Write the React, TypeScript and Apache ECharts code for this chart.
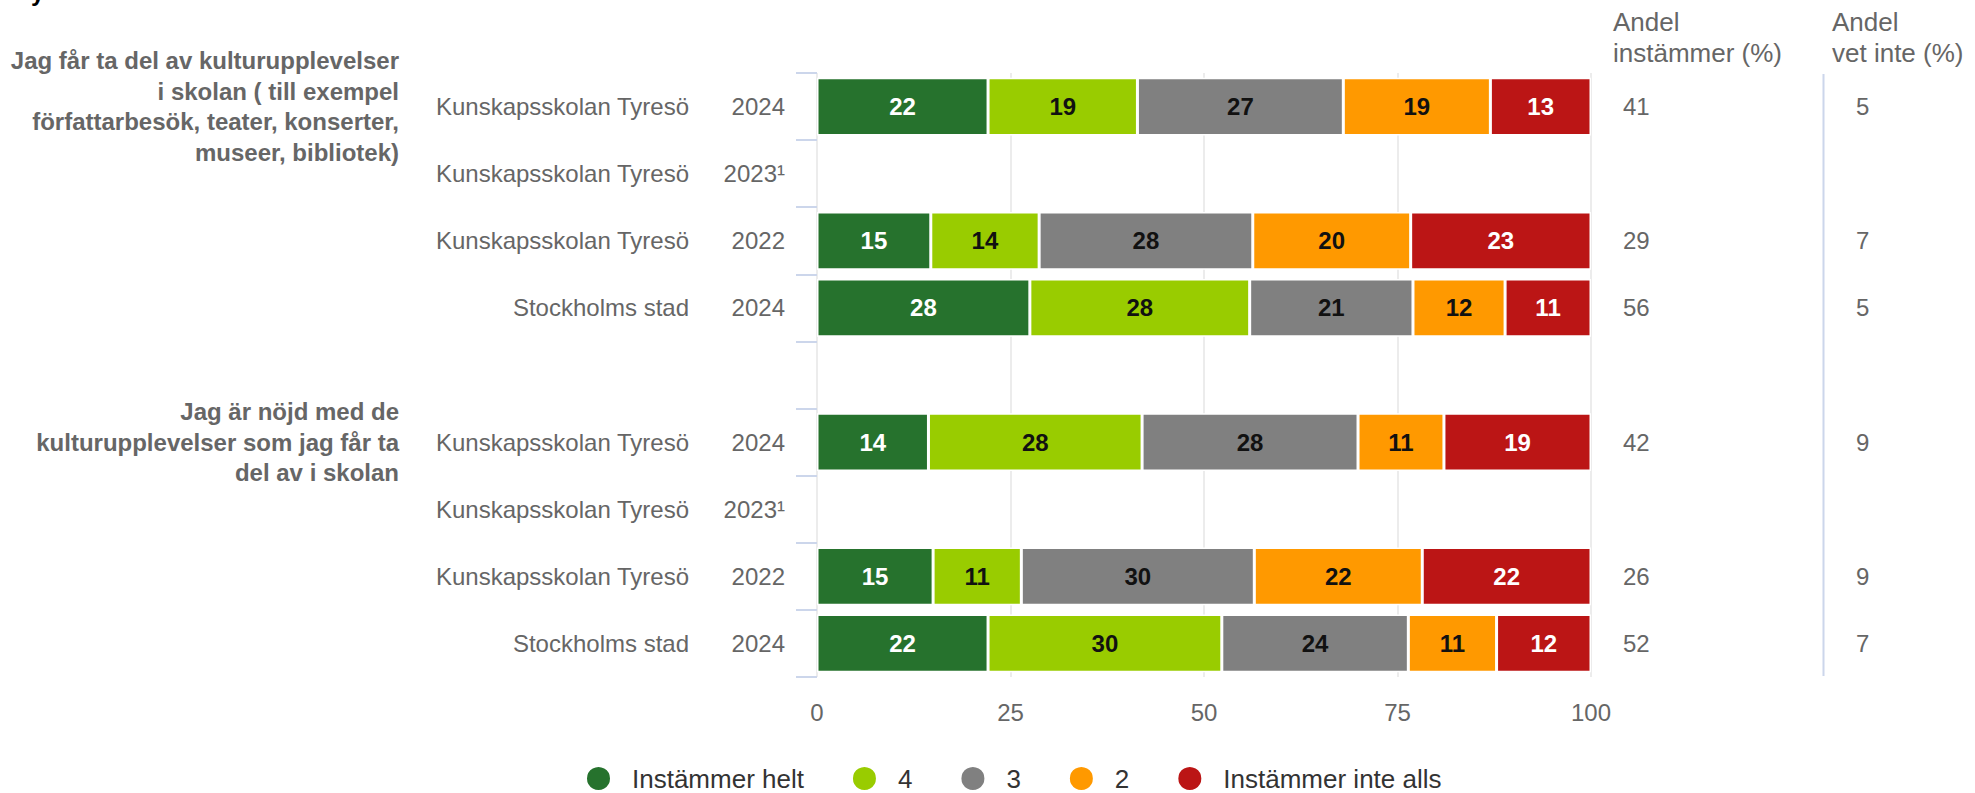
import React, { useEffect, useRef } from "react";
import * as echarts from "echarts";

const rowNames = [
  "Kunskapsskolan Tyresö",
  "Kunskapsskolan Tyresö",
  "Kunskapsskolan Tyresö",
  "Stockholms stad",
  "",
  "Kunskapsskolan Tyresö",
  "Kunskapsskolan Tyresö",
  "Kunskapsskolan Tyresö",
  "Stockholms stad",
];
const rowYears = ["2024", "2023¹", "2022", "2024", "", "2024", "2023¹", "2022", "2024"];
const rowIds = ["r0", "r1", "r2", "r3", "r4", "r5", "r6", "r7", "r8"];

const questionByRow: Record<number, string> = {
  0: "Jag får ta del av kulturupplevelser\ni skolan ( till exempel\nförfattarbesök, teater, konserter,\nmuseer, bibliotek)",
  5: "Jag är nöjd med de\nkulturupplevelser som jag får ta\ndel av i skolan",
};

const seriesNames = ["Instämmer helt", "4", "3", "2", "Instämmer inte alls"];
const seriesColors = ["#26722d", "#99cc00", "#808080", "#ff9900", "#bb1515"];
const labelColors = ["#ffffff", "#111111", "#111111", "#111111", "#ffffff"];

const instammerHelt = [22.1, null, 14.7, 27.5, null, 14.4, null, 15.0, 22.1];
const varde4 = [19.3, null, 14.0, 28.4, null, 27.6, null, 11.4, 30.2];
const varde3 = [26.6, null, 27.6, 21.1, null, 27.9, null, 30.1, 24.1];
const varde2 = [19.0, null, 20.4, 11.9, null, 11.1, null, 21.7, 11.4];
const instammerInteAlls = [13.0, null, 23.3, 11.1, null, 19.0, null, 21.8, 12.2];
const seriesValues = [instammerHelt, varde4, varde3, varde2, instammerInteAlls];

const andelInstammer = [41, null, 29, 56, null, 42, null, 26, 52];
const andelVetInte = [5, null, 7, 5, null, 9, null, 9, 7];

const xTicks = [0, 25, 50, 75, 100];

const FONT = "'Liberation Sans', Arial, sans-serif";

export default function App() {
  const ref = useRef<HTMLDivElement>(null);

  useEffect(() => {
    document.body.style.margin = "0";
    if (!ref.current) return;
    const chart = echarts.init(ref.current, null, { renderer: "svg" });

    const option: any = {
      animation: false,
      textStyle: { fontFamily: FONT },
      grid: { left: 817, right: 384, top: 73, bottom: 116, containLabel: false },
      legend: {
        data: seriesNames,
        icon: "circle",
        left: 580,
        top: 760,
        padding: 5,
        itemWidth: 25,
        itemHeight: 25,
        itemGap: 47,
        textStyle: { fontSize: 26, color: "#333333", padding: [0, 0, 0, 16], fontFamily: FONT },
      },
      xAxis: {
        type: "value",
        min: xTicks[0],
        max: xTicks[xTicks.length - 1],
        interval: 25,
        axisLine: { show: false },
        axisTick: { show: false },
        splitLine: { show: true, lineStyle: { color: "#e6e6e6", width: 1.5 } },
        axisLabel: { fontSize: 24, color: "#666666", margin: 23, fontFamily: FONT },
      },
      yAxis: [
        {
          type: "category",
          data: rowIds,
          inverse: true,
          position: "left",
          axisLine: { show: false },
          axisTick: { show: true, length: 21, lineStyle: { color: "#ccd6eb", width: 2 } },
          splitLine: { show: false },
          axisLabel: {
            margin: 32,
            formatter: (_v: string, i: number) =>
              rowNames[i] ? `{n|${rowNames[i]}}{y|${rowYears[i]}}` : "",
            rich: {
              n: { width: 260, align: "right", fontSize: 24, color: "#666666", fontFamily: FONT },
              y: { width: 96, align: "right", fontSize: 24, color: "#666666", fontFamily: FONT },
            },
          },
        },
        {
          type: "category",
          data: rowIds,
          inverse: true,
          position: "left",
          axisLine: { show: false },
          axisTick: { show: false },
          splitLine: { show: false },
          axisLabel: {
            margin: 418,
            interval: 0,
            align: "right",
            fontSize: 24,
            fontWeight: "bold",
            lineHeight: 30.5,
            color: "#666666",
            fontFamily: FONT,
            formatter: (_v: string, i: number) => questionByRow[i] || "",
          },
        },
        {
          type: "category",
          data: rowIds,
          inverse: true,
          position: "right",
          axisLine: { show: false },
          axisTick: { show: false },
          splitLine: { show: false },
          axisLabel: {
            margin: 32,
            interval: 0,
            align: "left",
            formatter: (_v: string, i: number) =>
              andelInstammer[i] != null ? `{a|${andelInstammer[i]}}{b|${andelVetInte[i]}}` : "",
            rich: {
              a: { width: 233, align: "left", fontSize: 24, color: "#666666", fontFamily: FONT },
              b: { align: "left", fontSize: 24, color: "#666666", fontFamily: FONT },
            },
          },
        },
      ],
      series: seriesNames.map((name, k) => ({
        name,
        type: "bar",
        stack: "total",
        yAxisIndex: 0,
        barCategoryGap: "14%",
        data: seriesValues[k],
        itemStyle: { color: seriesColors[k], borderColor: "#ffffff", borderWidth: 1.5 },
        label: {
          show: true,
          position: "inside",
          fontSize: 24,
          fontWeight: "bold",
          color: labelColors[k],
          fontFamily: FONT,
          formatter: (p: any) => (p.value == null ? "" : String(Math.round(p.value))),
        },
      })),
      graphic: [
        {
          type: "text",
          left: 1613,
          top: 6,
          style: {
            text: "Andel\ninstämmer (%)",
            fontSize: 26,
            lineHeight: 31,
            fill: "#666666",
            fontFamily: FONT,
          },
        },
        {
          type: "text",
          left: 1832,
          top: 6,
          style: {
            text: "Andel\nvet inte (%)",
            fontSize: 26,
            lineHeight: 31,
            fill: "#666666",
            fontFamily: FONT,
          },
        },
        {
          type: "line",
          shape: { x1: 1823.5, y1: 74, x2: 1823.5, y2: 676 },
          style: { stroke: "#ccd6eb", lineWidth: 2 },
        },
        {
          type: "text",
          x: 31,
          y: 4,
          style: {
            text: "y",
            fontSize: 24,
            fontWeight: "bold",
            fill: "#000000",
            fontFamily: FONT,
            verticalAlign: "bottom",
          },
        },
      ],
    };

    chart.setOption(option);
    return () => chart.dispose();
  }, []);

  return <div ref={ref} style={{ width: 1975, height: 793 }} />;
}
